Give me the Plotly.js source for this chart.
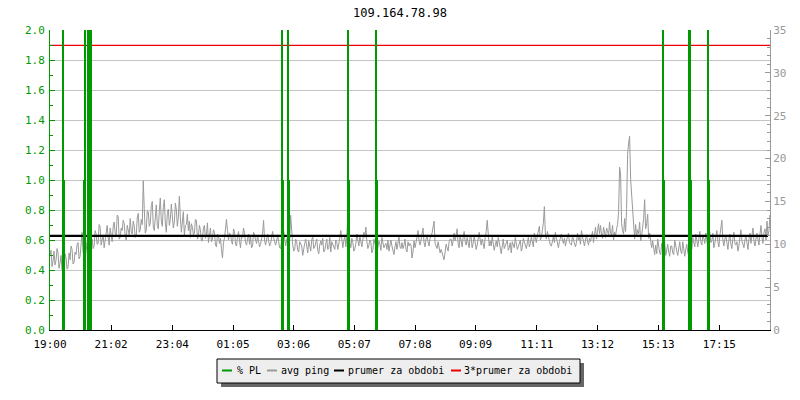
<!DOCTYPE html>
<html><head><meta charset="utf-8">
<script src="https://cdn.plot.ly/plotly-3.0.1.min.js"></script>
<style>html,body{margin:0;padding:0;background:#fff}#chart{width:800px;height:400px}</style>
</head><body><div id="chart"></div>
<script>
const chartTitle = '109.164.78.98';
const startTime = '2024-05-01T19:00:00Z';
const sampleStepMin = 2;
const spanMin = 1436;

// avg ping [ms], one sample every 2 minutes (right axis)
const pingMs = [
 8.6, 9.3, 7.4, 8.0, 9.2, 7.6, 8.1, 9.5, 9.0, 7.2, 7.8, 8.7, 7.0, 6.6, 6.8, 8.9, 8.4, 7.1, 7.3, 9.0,
 8.2, 9.8, 9.4, 7.7, 7.9, 9.1, 8.8,10.0,10.2, 8.3, 8.6, 9.7,11.4, 9.0, 8.9, 8.1, 9.6,10.3, 8.3, 8.8,
 8.9,10.2,10.6, 9.5, 9.8,11.6,11.2,10.0,10.1,12.3,12.0, 9.9,10.4,11.1, 9.6,10.6,11.5,12.2,10.8, 9.9,
11.9,10.7,10.3,12.1,12.6,11.3,11.0,13.4,13.2,10.6,10.8,11.9,11.6,12.8,12.4,10.9,10.5,12.2,11.8,11.1,
13.0,11.5,11.2,12.7,12.2,10.8,10.9,13.1,13.6,11.4,11.7,12.9,12.3,17.4,14.2,11.3,11.6,13.9,13.8,12.1,
12.4,14.5,15.0,12.0,11.6,13.4,14.6,12.2,11.8,13.9,15.4,12.7,12.1,14.3,15.2,12.5,11.4,13.6,14.1,12.2,
12.9,14.7,13.5,11.9,12.6,14.8,14.0,12.1,13.2,15.6,13.1,11.4,12.6,13.8,11.0,12.2,12.3,13.5,11.6,12.7,
10.8,12.4,12.0,11.1,11.3,12.9,12.8,10.6,10.9,12.2,11.7,10.4,10.4,11.9,12.2,10.7,11.1,12.5,10.2,11.0,
11.9,10.3,10.6,11.7,11.4, 9.9, 9.7,11.2,11.0,10.1,10.7, 9.4, 8.4,10.2,10.7,11.8,12.9,11.6,10.5,11.3,
11.2,10.3,10.0,11.8,11.5,10.0, 9.8,10.9,11.5,10.4, 9.6,11.0,10.8,11.9,11.3,10.2, 9.9,10.6,11.2,10.0,
10.9, 9.6, 9.8,11.4,11.1,10.5,10.1,11.0,10.3, 9.7,10.0,10.6,11.3,12.8,10.4, 9.9,10.6,11.2,10.4, 9.8,
10.1,11.1,11.5,10.7,10.2, 9.9,10.4,11.1,10.3, 9.6, 9.5,10.8,11.4,11.6,10.2, 9.8,10.5,10.9, 9.9,10.4,
13.4,10.8,10.0, 9.2, 9.4,10.6,10.3, 9.3, 9.1,10.3,10.1, 9.8, 8.7, 9.6,10.1,10.6, 9.5, 9.0,10.4, 9.8,
 9.2,10.5,10.9, 9.5, 9.7,10.2,10.6, 9.3, 8.9, 9.9,10.4, 9.9,10.7, 9.1, 9.3,10.0,10.6, 9.4, 9.6,10.8,
 9.1,10.3,10.0, 9.8, 9.4,10.5,10.2, 9.4, 9.9,10.7,11.6,10.1, 9.6,10.4,11.0, 9.7,10.9,13.4,11.3,10.2,
 9.6,10.7,10.2, 9.2, 9.5,10.1,11.2,10.4, 9.8,10.9,10.3, 9.7,10.6,11.4,10.8,12.0,10.3, 9.5, 9.9,10.5,
10.2, 9.0, 9.4,10.6,10.1, 9.7, 8.9, 9.6,10.4,10.0, 9.3,10.8,10.2, 9.6, 9.9,10.1, 9.4,10.5, 9.2, 9.9,
10.5, 9.8, 9.3, 8.8, 9.7,10.3, 9.4,10.0,10.9, 9.7, 9.5,10.2, 9.5, 9.9,10.6, 9.4, 9.1,10.3, 9.8,10.1,
 9.9, 8.4, 9.1,10.4, 9.6,10.2,10.8,11.6,10.4, 9.9,10.5,11.1,11.9,10.2, 9.7,10.6,10.9,10.3, 9.8,10.7,
10.9,11.3,12.0,12.7,10.1, 9.8, 9.5,10.3, 9.7, 9.0, 9.4, 8.8, 8.6, 8.2, 9.4,10.0, 9.6, 9.2,10.3,10.6,
10.6, 9.8,10.4,11.3,10.4,11.0,11.8,10.1, 9.6,11.1,10.5, 9.7,10.8,11.5,10.3, 9.9,10.8,10.2, 9.6,11.0,
10.8, 9.6,10.1,11.0,10.2, 9.4, 9.9,10.7,11.4,10.5, 9.9,10.6,10.2, 9.5,10.8,11.5,12.8,10.5, 9.8,10.4,
 9.8,10.9,10.3, 9.3, 9.9,10.4, 9.7,10.8,10.2, 9.5, 8.9, 9.8,10.6, 9.5, 9.9,10.1,10.5, 9.3, 9.6,10.2,
 9.0,10.3, 9.9, 9.6,10.8,10.1, 9.4, 9.7,10.0,10.5, 9.2, 9.6,10.7,10.1, 9.9, 9.5,10.4,10.8, 9.7,10.1,
10.9,10.2, 9.7,11.3,10.6,10.2,11.0,11.4,12.1,10.5,10.8,11.6,12.5,14.4,11.2,10.6,11.5,10.9,10.3, 9.9,
 9.8,10.6,10.9,10.2,11.4,10.7,10.0, 9.6,10.3,10.8,11.2,10.5,10.1,10.7, 9.8,10.4,10.9,11.3,10.2,10.0,
 9.9,11.0,10.6,10.4, 9.7,10.2,11.3,10.5,10.8,10.0,11.6,10.9,10.3, 9.8,10.5,11.1,10.4, 9.9,10.7,10.3,
10.9,11.5,10.2,11.4,12.0,10.6,11.8,12.4,11.2,12.2,11.1,10.7,12.0,11.5,10.8,11.9,11.6,11.0,12.6,11.3,
11.0,12.2,10.5,11.4,11.0,11.8,12.3,13.8,19.0,18.2,12.4,11.6,11.2,13.0,11.5,14.2,20.5,21.8,22.6,17.6,
15.5,14.0,11.5,10.6,12.3,10.9,11.7,11.2,12.6,10.4,11.0,12.1,13.0,15.2,11.8,12.4,13.5,10.7,11.3,10.4,
 9.6,10.4, 9.2, 8.8, 9.9, 8.9,10.6, 9.4, 9.0, 8.8,10.1, 9.3, 9.7,10.2, 8.7, 9.5,10.0, 9.1, 8.6, 9.8,
 9.8, 9.0, 8.8,10.5, 9.5, 9.2, 8.7, 9.9,10.3, 9.2, 8.9,10.3, 9.6, 8.6, 9.4,10.0, 9.1, 8.4, 8.0, 9.0,
 9.4,10.8,10.1, 9.7,11.2,10.4, 9.7,10.6,11.5,10.3, 9.9,11.0,10.7,10.1,11.3,10.5, 9.6,10.9,11.4,10.2,
10.4,11.3, 9.6,10.1,10.8,11.6,10.3, 9.7,11.0,11.9,12.8,10.5, 9.8,10.6,11.1,10.2, 9.4,10.5,11.2,10.0,
 9.5,10.7,11.4,10.1, 9.9,10.3, 9.2, 9.8,10.9,11.7,10.4,10.0, 9.6,10.5,11.0,10.2, 9.4,10.6,11.3,10.1,
10.8,11.9,10.4, 9.8,10.6,11.3,10.6, 9.9,11.2,12.2,10.8,10.1,11.4,11.8,10.5,12.7,11.0,11.6,13.4,12.1
];

// packet loss events (minutes after start, % loss) - left axis, 0 elsewhere
const plMinutes = [26, 28, 68, 70, 76, 78, 80, 82, 462, 464, 474, 476, 594, 596, 650, 652, 1222, 1224, 1274, 1276, 1278, 1312, 1314];
const plPercent = [3, 1, 1, 3, 3, 3, 3, 3, 3, 1, 3, 1, 3, 1, 3, 1, 3, 1, 3, 3, 1, 3, 1];

const avgPingMs = 10.97;     // prumer za obdobi
const tripleAvgMs = 33.2;    // 3*prumer za obdobi

const tickLabels = ['19:00','21:02','23:04','01:05','03:06','05:07','07:08','09:09','11:11','13:12','15:13','17:15'];
const legendNames = ['% PL','avg ping','prumer za obdobi','3*prumer za obdobi'];
const legendColors = ['#009900','#9a9a9a','#000000','#ee0000'];

const FONT = 'DejaVu Sans Mono, monospace';
const t0 = Date.parse(startTime);
function toDate(min){ return new Date(t0 + min*60000).toISOString().replace('T',' ').replace('Z',''); }
const startClock = new Date(t0).getUTCHours()*60 + new Date(t0).getUTCMinutes();
const tickVals = tickLabels.map(function(l){
  const p = l.split(':'); let m = (+p[0])*60 + (+p[1]) - startClock; if (m < 0) m += 1440; return toDate(m);
});

const pingX = pingMs.map(function(_, i){ return toDate(i*sampleStepMin); });

const traces = [
  {type:'scatter', mode:'lines', x:pingX, y:pingMs, yaxis:'y2', xaxis:'x',
   line:{color:legendColors[1], width:1}, hoverinfo:'skip'},
  {type:'scatter', mode:'lines', x:[toDate(0), toDate(spanMin-4)], y:[avgPingMs, avgPingMs], yaxis:'y2',
   line:{color:legendColors[2], width:2.2}, hoverinfo:'skip'},
  {type:'scatter', mode:'lines', x:[toDate(0), toDate(spanMin)], y:[tripleAvgMs, tripleAvgMs], yaxis:'y2',
   line:{color:legendColors[3], width:1.2}, hoverinfo:'skip'},
  {type:'bar', x:plMinutes.map(toDate), y:plPercent, yaxis:'y', xaxis:'x', width:1.8*60000,
   marker:{color:legendColors[0], line:{width:0}}, hoverinfo:'skip'}
];

// legend geometry in pixels -> paper
const PL = 50, PT = 30, PW = 720, PH = 300;
function px(x){ return (x-PL)/PW; }
function py(y){ return (PT+PH-y)/PH; }
const shapes = [
  {type:'rect', xref:'paper', yref:'paper', x0:px(221), x1:px(584), y0:py(363), y1:py(387), fillcolor:'#666', line:{width:0}},
  {type:'rect', xref:'paper', yref:'paper', x0:px(217), x1:px(580), y0:py(359), y1:py(383), fillcolor:'#eeeeee', line:{color:'#000', width:1}}
];
const sampleX = [222, 267, 334, 451];
const textX = [236, 280, 347, 463];
const annotations = [];
legendNames.forEach(function(n, i){
  shapes.push({type:'line', xref:'paper', yref:'paper', x0:px(sampleX[i]), x1:px(sampleX[i]+10), y0:py(370.5), y1:py(370.5), line:{color:legendColors[i], width:2}});
  annotations.push({xref:'paper', yref:'paper', x:px(textX[i]), y:py(370), xanchor:'left', yanchor:'middle', text:n, showarrow:false, borderpad:0,
    font:{family:FONT, size:10, color:'#000'}});
});

const layout = {
  width:800, height:400, margin:{l:50, r:30, t:30, b:70},
  paper_bgcolor:'#fff', plot_bgcolor:'#fff', showlegend:false,
  title:{text:chartTitle, x:0.5, xref:'container', xanchor:'center', y:1-13/400, yref:'container', yanchor:'middle',
         font:{family:FONT, size:12, color:'#000'}},
  xaxis:{type:'date', range:[toDate(0), toDate(spanMin)], tickvals:tickVals, ticktext:tickLabels,
         ticks:'inside', ticklen:5, tickcolor:'#000', showline:true, linecolor:'#000', linewidth:1,
         ticklabelstandoff:4,
         showgrid:false, zeroline:false, tickfont:{family:FONT, size:11, color:'#000'}},
  yaxis:{range:[0,2], tick0:0, dtick:0.2, tickformat:'.1f', side:'left', overlaying:'y2',
         ticks:'inside', ticklen:5, tickcolor:'#009900', showline:true, linecolor:'#009900',
         ticklabelstandoff:2,
         showgrid:true, gridcolor:'#c4c4c4', zeroline:false, tickfont:{family:FONT, size:11, color:'#009900'},
         minor:{dtick:0.1, ticks:'inside', ticklen:3, tickcolor:'#009900', showgrid:false}},
  yaxis2:{range:[0,35], tick0:0, dtick:5, side:'right', ticks:'inside', ticklen:5, tickcolor:'#999',
         showline:true, linecolor:'#999', showgrid:false, zeroline:false,
         tickfont:{family:FONT, size:11, color:'#999'},
         minor:{dtick:1, ticks:'inside', ticklen:3, tickcolor:'#999'}},
  barmode:'overlay', bargap:0,
  shapes:shapes, annotations:annotations
};
Plotly.newPlot('chart', traces, layout, {displayModeBar:false, responsive:false});
</script>
</body></html>
